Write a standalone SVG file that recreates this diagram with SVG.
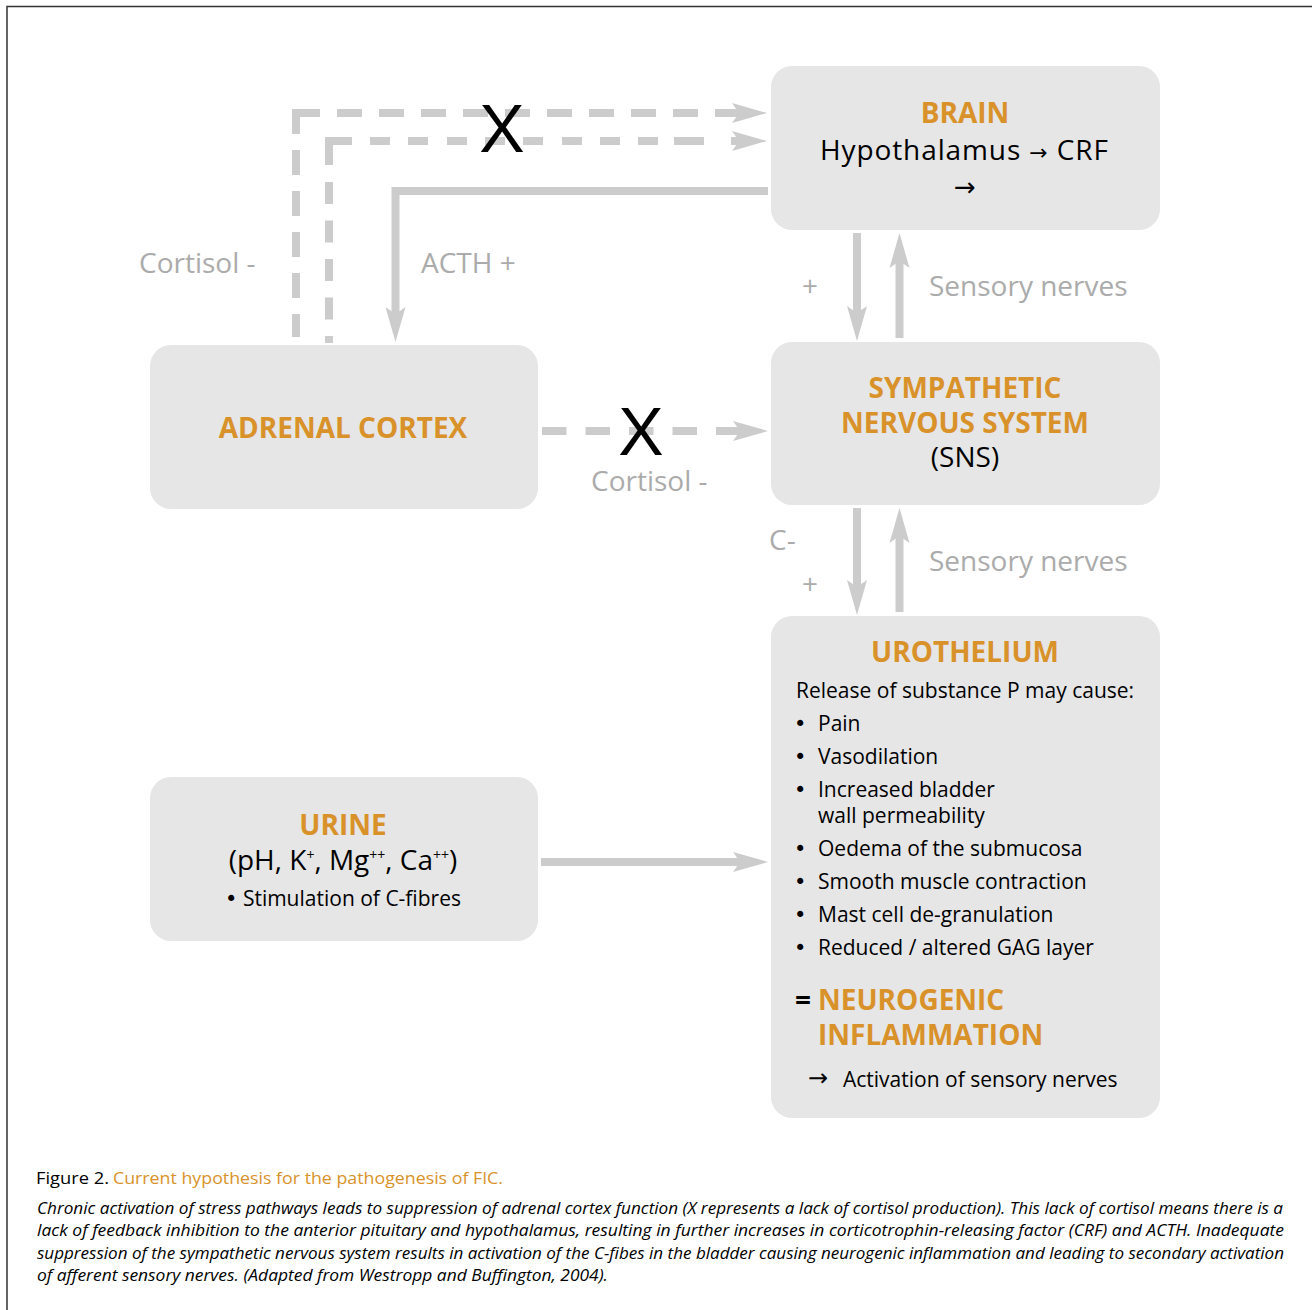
<svg xmlns="http://www.w3.org/2000/svg" width="1312" height="1310" viewBox="0 0 1312 1310">
<defs>
<style>
.box{fill:#e6e6e6}
.hd{font-family:"Open Sans","Noto Sans",sans-serif;font-weight:bold;font-size:28px;fill:#d9922a}
.bk{font-family:"Open Sans","Noto Sans",sans-serif;font-size:28px;fill:#000}
.sm{font-family:"Open Sans","Noto Sans",sans-serif;font-size:21px;fill:#000}
.ar{font-family:"DejaVu Sans",sans-serif;fill:#000}
.bu{font-family:"DejaVu Sans",sans-serif;font-size:21px;fill:#000}
.lb{font-family:"Open Sans","Noto Sans",sans-serif;font-size:28px;fill:#ababab}
.xx{font-family:"Liberation Sans","Open Sans",sans-serif;font-size:68px;fill:#000}
.cap{font-family:"Open Sans","Noto Sans",sans-serif;font-size:17px}
.it{font-family:"Open Sans","Noto Sans",sans-serif;font-size:17px;font-style:italic;fill:#000}
.ln{fill:none;stroke:#cccccc;stroke-width:8}
</style>
<marker id="ah" markerUnits="userSpaceOnUse" markerWidth="36" markerHeight="22" refX="7" refY="10" orient="auto" overflow="visible">
<path d="M0,0 L35,10 L0,20 L7,10 Z" fill="#cccccc"/>
</marker>
</defs>
<rect width="1312" height="1310" fill="#fff"/>
<path d="M7,1312 V6.5 H1314" fill="none" stroke="#333" stroke-width="1.5"/>

<g id="connectors">
<path class="ln" d="M296,109 V337" stroke-dasharray="25 16"/>
<path class="ln" d="M295,113 H739" stroke-dasharray="25 17" marker-end="url(#ah)"/>
<path class="ln" d="M329,137 V343" stroke-dasharray="28 17 22 16.5 22 16.5 22 16.5 22 16.5 22 16.5"/>
<path class="ln" d="M325,141 H739" stroke-dasharray="27 18 20 18 20 19 20 18 20 18 20 19 20 18 20 18 20 16 30" marker-end="url(#ah)"/>
<path class="ln" d="M768,191 H395.5 V314" marker-end="url(#ah)"/>
<path class="ln" d="M542,431 H740" stroke-dasharray="24.5 19" marker-end="url(#ah)"/>
<path class="ln" d="M857,233 V313" marker-end="url(#ah)"/>
<path class="ln" d="M899.5,338 V261" marker-end="url(#ah)"/>
<path class="ln" d="M857,508 V587" marker-end="url(#ah)"/>
<path class="ln" d="M899.5,612 V536" marker-end="url(#ah)"/>
<path class="ln" d="M541,862 H740" marker-end="url(#ah)"/>
<text class="xx" x="502" y="152" text-anchor="middle">X</text>
<text class="xx" x="641" y="455" text-anchor="middle">X</text>
<text class="lb" x="139" y="273">Cortisol -</text>
<text class="lb" x="421" y="273">ACTH +</text>
<text class="lb" x="591" y="491">Cortisol -</text>
<text class="lb" x="810" y="296" text-anchor="middle">+</text>
<text class="lb" x="929" y="296">Sensory nerves</text>
<text class="lb" x="769" y="550">C-</text>
<text class="lb" x="810" y="594" text-anchor="middle">+</text>
<text class="lb" x="929" y="571">Sensory nerves</text>
</g>

<g id="brain">
<rect class="box" x="771" y="66" width="389" height="164" rx="21"/>
<text class="hd" x="965" y="123" text-anchor="middle">BRAIN</text>
<text class="bk" x="820" y="160" textLength="288" lengthAdjust="spacing">Hypothalamus <tspan class="ar" font-size="22">→</tspan> CRF</text>
<text class="ar" x="965" y="196" font-size="26" text-anchor="middle">→</text>
</g>

<g id="sns">
<rect class="box" x="771" y="342" width="389" height="163" rx="21"/>
<text class="hd" x="965" y="398" text-anchor="middle">SYMPATHETIC</text>
<text class="hd" x="965" y="433" text-anchor="middle">NERVOUS SYSTEM</text>
<text class="bk" x="965" y="467" text-anchor="middle">(SNS)</text>
</g>

<g id="adrenal">
<rect class="box" x="150" y="345" width="388" height="164" rx="21"/>
<text class="hd" x="343" y="438" text-anchor="middle">ADRENAL CORTEX</text>
</g>

<g id="urine">
<rect class="box" x="150" y="777" width="388" height="164" rx="21"/>
<text class="hd" x="343" y="835" text-anchor="middle">URINE</text>
<text class="bk" x="343" y="870" text-anchor="middle">(pH, K<tspan font-size="14" dy="-10">+</tspan><tspan dy="10">, Mg</tspan><tspan font-size="14" dy="-10">++</tspan><tspan dy="10">, Ca</tspan><tspan font-size="14" dy="-10">++</tspan><tspan dy="10">)</tspan></text>
<text class="sm" x="343" y="906" text-anchor="middle"><tspan class="bu">•</tspan> Stimulation of C-fibres</text>
</g>

<g id="urothelium">
<rect class="box" x="771" y="616" width="389" height="502" rx="21"/>
<text class="hd" x="965" y="662" text-anchor="middle">UROTHELIUM</text>
<text class="sm" x="796" y="698">Release of substance P may cause:</text>
<text class="bu" x="794" y="731">•</text><text class="sm" x="818" y="731">Pain</text>
<text class="bu" x="794" y="764">•</text><text class="sm" x="818" y="764">Vasodilation</text>
<text class="bu" x="794" y="797">•</text><text class="sm" x="818" y="797">Increased bladder</text>
<text class="sm" x="818" y="823">wall permeability</text>
<text class="bu" x="794" y="856">•</text><text class="sm" x="818" y="856">Oedema of the submucosa</text>
<text class="bu" x="794" y="889">•</text><text class="sm" x="818" y="889">Smooth muscle contraction</text>
<text class="bu" x="794" y="922">•</text><text class="sm" x="818" y="922">Mast cell de-granulation</text>
<text class="bu" x="794" y="955">•</text><text class="sm" x="818" y="955">Reduced / altered GAG layer</text>
<text class="bk" x="795" y="1010" font-weight="bold">=</text>
<text class="hd" x="818" y="1010">NEUROGENIC</text>
<text class="hd" x="818" y="1045">INFLAMMATION</text>
<text class="ar" x="808" y="1086" font-size="24">→</text>
<text class="sm" x="843" y="1087">Activation of sensory nerves</text>
</g>

<g id="caption">
<text class="cap" x="36" y="1184" fill="#000" textLength="73" lengthAdjust="spacingAndGlyphs">Figure 2.</text>
<text class="cap" x="113" y="1184" fill="#d9922a" textLength="390" lengthAdjust="spacingAndGlyphs">Current hypothesis for the pathogenesis of FIC.</text>
<text class="it" x="37" y="1214" textLength="1246" lengthAdjust="spacingAndGlyphs">Chronic activation of stress pathways leads to suppression of adrenal cortex function (X represents a lack of cortisol production). This lack of cortisol means there is a</text>
<text class="it" x="37" y="1236" textLength="1247" lengthAdjust="spacingAndGlyphs">lack of feedback inhibition to the anterior pituitary and hypothalamus, resulting in further increases in corticotrophin-releasing factor (CRF) and ACTH. Inadequate</text>
<text class="it" x="37" y="1259" textLength="1247" lengthAdjust="spacingAndGlyphs">suppression of the sympathetic nervous system results in activation of the C-fibes in the bladder causing neurogenic inflammation and leading to secondary activation</text>
<text class="it" x="37" y="1281" textLength="571" lengthAdjust="spacingAndGlyphs">of afferent sensory nerves. (Adapted from Westropp and Buffington, 2004).</text>
</g>
</svg>
